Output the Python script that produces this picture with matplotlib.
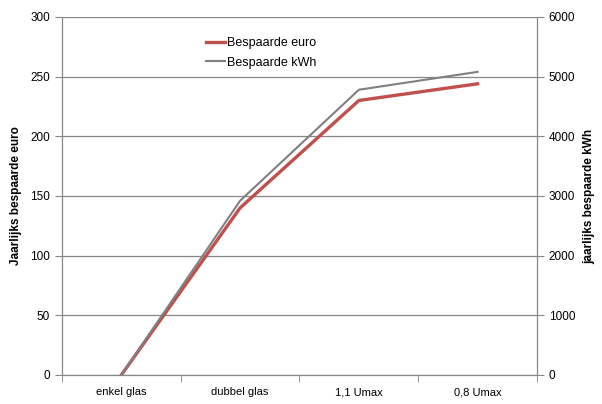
import matplotlib
matplotlib.use("Agg")
import matplotlib.pyplot as plt

plt.rcParams['font.family'] = ['Liberation Sans', 'DejaVu Sans']

categories = ["enkel glas", "dubbel glas", "1,1 Umax", "0,8 Umax"]
euro = [0, 140, 230, 244]
kwh = [0, 2920, 4780, 5080]

fig = plt.figure(figsize=(6.02, 4.04), dpi=100)
ax = fig.add_axes([0.103, 0.072, 0.789, 0.886])
ax2 = ax.twinx()

x = range(len(categories))
ax.plot(x, euro, color="#c0504d", lw=2.4, label="Bespaarde euro", zorder=3)
ax2.plot(x, kwh, color="#808080", lw=1.5, label="Bespaarde kWh", zorder=3)

ax.set_xlim(-0.5, 3.5)
ax.set_ylim(0, 300)
ax2.set_ylim(0, 6000)
ax.set_yticks(range(0, 301, 50))
ax2.set_yticks(range(0, 6001, 1000))
ax.set_xticks(x)
ax.set_xticklabels(categories)
ax.set_xticks([-0.5, 0.5, 1.5, 2.5, 3.5], minor=True)
ax.tick_params(axis="x", which="major", length=0, pad=9, labelsize=8)
ax.tick_params(axis="x", which="minor", length=5, color="#868686")
ax.tick_params(axis="y", length=5, color="#868686", labelsize=8.5, direction="out")
ax2.tick_params(axis="y", length=5, color="#868686", labelsize=8.5, direction="out")

ax.yaxis.grid(True, color="#868686", lw=0.9)
ax.set_axisbelow(True)
for a in (ax, ax2):
    a.spines["top"].set_visible(False)
    for s in ("left", "right", "bottom"):
        a.spines[s].set_color("#868686")

ax.set_ylabel("Jaarlijks bespaarde euro", fontsize=8.5, fontweight="bold", labelpad=6)
ax2.set_ylabel("jaarlijks bespaarde kWh", fontsize=8.5, fontweight="bold", labelpad=6)

h1, l1 = ax.get_legend_handles_labels()
h2, l2 = ax2.get_legend_handles_labels()
ax.legend(h1 + h2, l1 + l2, loc="upper left", bbox_to_anchor=(0.28, 0.975),
          frameon=False, fontsize=9, handlelength=1.5, handletextpad=0.15,
          labelspacing=0.6)

fig.savefig("out.png", dpi=100)
